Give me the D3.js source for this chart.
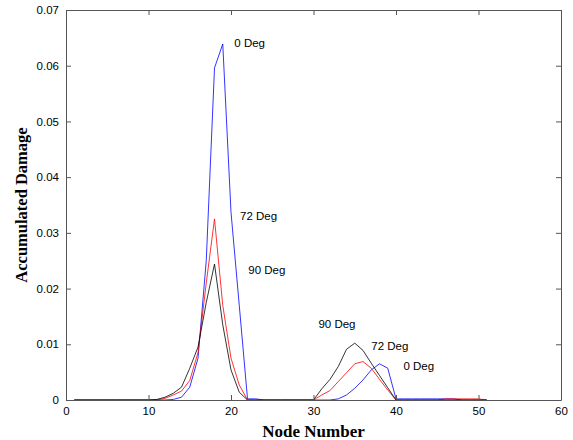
<!DOCTYPE html>
<html>
<head>
<meta charset="utf-8">
<script src="https://cdn.jsdelivr.net/npm/d3@7"></script>
<style>
  body { margin: 0; background: #fff; }
  svg { display: block; }
</style>
</head>
<body>
<div id="chart"></div>
<script>
// node numbers 1..51
const nodes = d3.range(1, 52);

// accumulated damage per node
const deg0 = [
  0, 0, 0, 0, 0, 0, 0, 0, 0, 0,
  0, 0, 0.0001, 0.0005, 0.0023, 0.0075, 0.025, 0.0596, 0.0639, 0.0337,
  0.017, 0.0002, 0.0002, 0, 0, 0, 0, 0, 0, 0,
  0, 0, 0.0002, 0.0009, 0.0021, 0.0036, 0.0054, 0.0065, 0.0057, 0.0002,
  0.0002, 0.0002, 0.0002, 0.0002, 0.0002, 0.0002, 0.0002, 0, 0, 0, 0
];
const deg72 = [
  0, 0, 0, 0, 0, 0, 0, 0, 0, 0,
  0, 0.0003, 0.0009, 0.0016, 0.0035, 0.0085, 0.021, 0.0325, 0.017, 0.0075,
  0.0027, 0, 0, 0, 0, 0, 0, 0, 0, 0,
  0.0009, 0.0017, 0.0033, 0.0049, 0.0065, 0.0069, 0.0057, 0.0037, 0.0018, 0,
  0, 0, 0, 0, 0, 0.0002, 0.0002, 0.0002, 0.0002, 0.0002, 0
];
const deg90 = [
  0, 0, 0, 0, 0, 0, 0, 0, 0, 0,
  0.0001, 0.0005, 0.0012, 0.0023, 0.0057, 0.0095, 0.0175, 0.0244, 0.0135, 0.0054,
  0.0014, 0, 0, 0, 0, 0, 0, 0, 0, 0,
  0.002, 0.0037, 0.006, 0.0091, 0.0102, 0.0089, 0.0066, 0.0044, 0.0022, 0,
  0, 0, 0, 0, 0, 0, 0, 0, 0, 0, 0
];

const xTicks = [0, 10, 20, 30, 40, 50, 60];
const yTicks = [0, 0.01, 0.02, 0.03, 0.04, 0.05, 0.06, 0.07];

// curve labels: [node, value, text]
const labels = [
  [20.4, 0.0641, '0 Deg'],
  [21.1, 0.0331, '72 Deg'],
  [22.1, 0.0233, '90 Deg'],
  [30.6, 0.0136, '90 Deg'],
  [37.0, 0.0097, '72 Deg'],
  [40.9, 0.0061, '0 Deg']
];

const width = 573, height = 440;
const margin = { top: 10, right: 12, bottom: 40, left: 66 };

const svg = d3.select('#chart')
  .append('svg')
  .attr('width', width)
  .attr('height', height);

const x = d3.scaleLinear()
  .domain([0, 60])
  .range([margin.left, width - margin.right]);
const y = d3.scaleLinear()
  .domain([0, 0.07])
  .range([height - margin.bottom, margin.top]);

const axisColor = '#555';

// lines (black drawn last so it sits on top at zero)
const line = d3.line()
  .x((d, i) => x(nodes[i]))
  .y(d => y(d));

const series = [
  { data: deg0, color: '#0000ff' },
  { data: deg72, color: '#ff0000' },
  { data: deg90, color: '#000000' }
];

svg.append('g')
  .selectAll('path')
  .data(series)
  .enter()
  .append('path')
  .attr('d', d => line(d.data))
  .attr('fill', 'none')
  .attr('stroke', d => d.color)
  .attr('stroke-width', 0.8)
;

// box + inward ticks
const axisFont = '"Liberation Sans", Arial, sans-serif';

const axBottom = svg.append('g')
  .attr('transform', `translate(0, ${y(0)})`)
  .call(d3.axisBottom(x).tickValues(xTicks).tickSize(-5).tickPadding(7).tickSizeOuter(0));
const axTop = svg.append('g')
  .attr('transform', `translate(0, ${y(0.07)})`)
  .call(d3.axisTop(x).tickValues(xTicks).tickSize(-5).tickFormat('').tickSizeOuter(0));
const axLeft = svg.append('g')
  .attr('transform', `translate(${x(0)}, 0)`)
  .call(d3.axisLeft(y).tickValues(yTicks).tickSize(-5).tickPadding(7).tickSizeOuter(0)
    .tickFormat(d => d === 0 ? '0' : d3.format('.2f')(d)));
const axRight = svg.append('g')
  .attr('transform', `translate(${x(60)}, 0)`)
  .call(d3.axisRight(y).tickValues(yTicks).tickSize(-5).tickFormat('').tickSizeOuter(0));

[axBottom, axTop, axLeft, axRight].forEach(g => {
  g.selectAll('path, line').attr('stroke', axisColor);
  g.selectAll('text')
    .attr('fill', '#000')
    .style('font-family', axisFont)
    .style('font-size', '11.5px');
});

// curve annotations
svg.append('g')
  .selectAll('text')
  .data(labels)
  .enter()
  .append('text')
  .attr('x', d => x(d[0]))
  .attr('y', d => y(d[1]))
  .attr('dy', '0.35em')
  .text(d => d[2])
  .style('font-family', axisFont)
  .style('font-size', '11.5px')
;

// axis titles
svg.append('text')
  .attr('x', (x(0) + x(60)) / 2)
  .attr('y', 437)
  .attr('text-anchor', 'middle')
  .text('Node Number')
  .style('font-family', '"Liberation Serif", "Times New Roman", serif')
  .style('font-weight', 'bold')
  .style('font-size', '17px');

svg.append('text')
  .attr('transform', `translate(27, ${(y(0) + y(0.07)) / 2}) rotate(-90)`)
  .attr('text-anchor', 'middle')
  .text('Accumulated Damage')
  .style('font-family', '"Liberation Serif", "Times New Roman", serif')
  .style('font-weight', 'bold')
  .style('font-size', '16.5px');
</script>
</body>
</html>
